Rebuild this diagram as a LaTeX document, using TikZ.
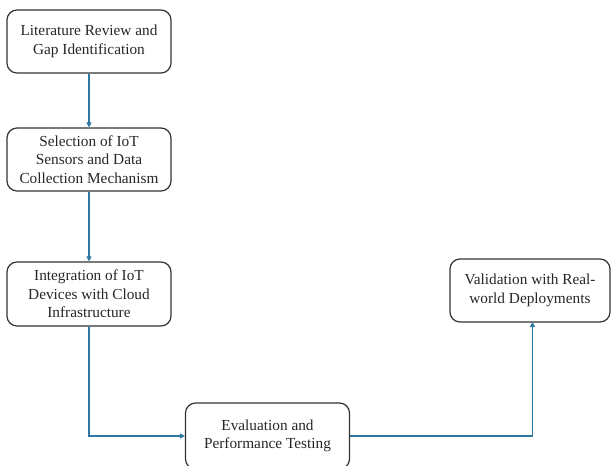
\documentclass[tikz,border=0pt]{standalone}
\usepackage{fontspec}
\setmainfont{Liberation Serif}
\usetikzlibrary{arrows.meta}
\tikzset{
  stepbox/.style={draw=black!80, line width=1.2pt, rounded corners=10pt, align=center,
    minimum width=164pt, minimum height=63pt, inner sep=2pt,
    font=\fontsize{15.3pt}{18.5pt}\selectfont, text=black!85},
  conn/.style={draw=arrowc, line width=1.1pt, -{Triangle[length=5pt,width=5pt]}}
}
\definecolor{arrowc}{HTML}{2E77A3}
\begin{document}
\begin{tikzpicture}[x=1pt,y=-1pt]
\useasboundingbox (0,0) rectangle (611,466);
\clip (0,0) rectangle (611,466);
\node[stepbox] (b1) at (89,41.5) {Literature Review and\\Gap Identification};
\node[stepbox] (b2) at (89,159.5) {Selection of IoT\\Sensors and Data\\Collection Mechanism};
\node[stepbox, minimum height=64pt] (b3) at (89,294) {Integration of IoT\\Devices with Cloud\\Infrastructure};
\node[stepbox, minimum height=66pt] (b4) at (267.5,436) {Evaluation and\\Performance Testing};
\node[stepbox, minimum width=160pt] (b5) at (530,290.5) {Validation with Real-\\world Deployments};
\coordinate (c5) at (532.5,322);
\draw[conn] (b1) -- (b2);
\draw[conn] (b2) -- (b3);
\draw[conn] (b3.south) |- (b4.west);
\draw[conn] (b4.east) -| (c5);
\end{tikzpicture}
\end{document}
